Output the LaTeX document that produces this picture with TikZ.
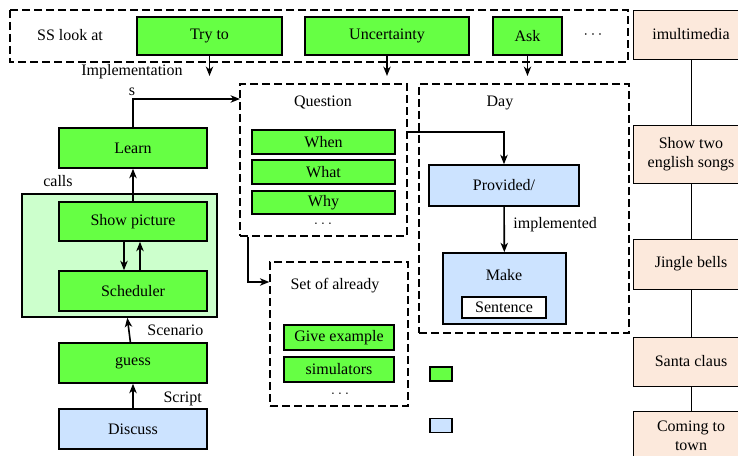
\documentclass[tikz,border=0pt]{standalone}
\usepackage{fontspec}
\usetikzlibrary{arrows.meta}
\setmainfont{Liberation Serif}
\definecolor{boxgreen}{HTML}{66FF44}
\definecolor{palegreen}{HTML}{CCFFCC}
\definecolor{boxblue}{HTML}{CCE3FF}
\definecolor{boxpeach}{HTML}{FCE9DC}
\begin{document}
\begin{tikzpicture}[x=.75pt,y=-.75pt,line cap=butt,line join=miter,>={Stealth[length=7pt,width=5.5pt,inset=2pt]},font=\fontsize{12}{14.5}\selectfont,
	gbox/.style={draw,line width=1.2pt,fill=boxgreen,inner sep=0pt},
	bbox/.style={draw,line width=1.2pt,fill=boxblue,inner sep=0pt},
	pbox/.style={draw,line width=.6pt,fill=boxpeach,inner sep=0pt,minimum width=87pt,align=center},
	dbox/.style={draw,line width=1pt,dash pattern=on 6pt off 3pt,inner sep=0pt},
	conn/.style={->,line width=1.2pt}]
			\useasboundingbox (0,0) rectangle (738,456);
			\clip (0,0) rectangle (738,456);
			\draw[line width=1pt,dash pattern=on 6pt off 3pt] (10,10) rectangle (628,62);
			\node (ss) at (70,35) {SS look at};
			\node[gbox,minimum width=108.75pt,minimum height=28.5pt] (tryto) at (209.5,36) {Try to};
			\node[gbox,minimum width=123pt,minimum height=28.5pt] (uncert) at (387,36) {Uncertainty};
			\node[gbox,minimum width=51.75pt,minimum height=28.5pt] (ask) at (527.5,36) {Ask};
			\node (topdots) at (593,35) {$\cdots$};
			\coordinate (trytoend) at (209.5,76);
			\coordinate (uncertend) at (387,76);
			\coordinate (askend) at (527.5,76);
			\draw[conn] (tryto) -- (trytoend);
			\draw[conn] (uncert) -- (uncertend);
			\draw[conn] (ask) -- (askend);
			\node[align=center] (impl) at (132,80) {Implementation\\s};
			% question frame
			\node[dbox,minimum width=125.25pt,minimum height=114pt] (qframe) at (323.5,160) {};
			\node (question) at (323,103) {Question};
			\node[gbox,minimum width=107.25pt,minimum height=18pt] (when) at (323.5,142) {When};
			\node[gbox,minimum width=107.25pt,minimum height=18pt] (what) at (323.5,172) {What};
			\node[gbox,minimum width=107.25pt,minimum height=17.25pt] (why) at (323.5,202.5) {Why};
			\node (qdots) at (323,224) {$\ldots$};
			% day frame
			\node[dbox,minimum width=157.5pt,minimum height=186.75pt] (dframe) at (524,208.5) {};
			\node (day) at (500,103) {Day};
			\node[bbox,minimum width=112.5pt,minimum height=30.75pt] (provided) at (504,185.5) {Provided/};
			\node[bbox,minimum width=92.25pt,minimum height=53.25pt] (make) at (504.5,288.5) {};
			\node (maketext) at (504,275) {Make};
			\node[draw,line width=1.2pt,fill=white,inner sep=0pt,minimum width=63pt,minimum height=15.75pt] (sentence) at (504,307.5) {Sentence};
			% set frame
			\node[dbox,minimum width=103.5pt,minimum height=108pt] (sframe) at (339,334) {};
			\node (setof) at (335,286) {Set of already};
			\node[gbox,minimum width=82.5pt,minimum height=18.75pt] (giveex) at (339,337.5) {Give example};
			\node[gbox,minimum width=82.5pt,minimum height=18.75pt] (simul) at (339,369.5) {simulators};
			\node (sdots) at (340,394) {$\ldots$};
			\node[gbox,minimum width=16.5pt,minimum height=10.5pt] (leggreen) at (441,374) {};
			\node[bbox,minimum width=16.5pt,minimum height=10.5pt] (legblue) at (441,425.5) {};
			% left column
			\node[draw,line width=1.2pt,fill=palegreen,minimum width=146.25pt,minimum height=92.25pt] (callsframe) at (119.5,255.5) {};
			\node (calls) at (58,181) {calls};
			\node[gbox,minimum width=111pt,minimum height=30pt] (learn) at (133,148) {Learn};
			\node[gbox,minimum width=111pt,minimum height=29.25pt] (showpic) at (133,221.5) {Show picture};
			\node[gbox,minimum width=111pt,minimum height=30pt] (sched) at (133,291) {Scheduler};
			\node[gbox,minimum width=111pt,minimum height=30pt] (guess) at (133,363) {guess};
			\node[bbox,minimum width=111pt,minimum height=30pt] (discuss) at (133,429) {Discuss};
			\coordinate (qin) at (240,99);
			\draw[conn] (learn.north) |- (qin);
			\draw[conn] (qframe.east |- 0,132) -| (provided.north);
			\draw[conn] (provided) -- node[right=3pt,pos=.4]{implemented} (make);
			\draw[conn] (qframe.south -| 248,0) |- (sframe.west |- 0,282);
			\draw[conn] (showpic) -- (learn);
			\draw[conn] (showpic.south -| 124,0) -- (sched.north -| 124,0);
			\draw[conn] (sched.north -| 140,0) -- (showpic.south -| 140,0);
			\draw[conn] (guess) -- node[right=10pt]{Scenario} (callsframe);
			\draw[conn] (discuss) -- node[right=19pt,pos=.4]{Script} (guess);
			% right column
			\node[pbox,minimum height=36.75pt] (imulti) at (691,34.5) {imultimedia};
			\node[pbox,minimum height=43.5pt] (songs) at (691,154) {Show two\\english songs};
			\node[pbox,minimum height=37.5pt] (jingle) at (691,264) {Jingle bells};
			\node[pbox,minimum height=36.75pt] (santa) at (691,361.5) {Santa claus};
			\node[pbox,minimum height=37.5pt] (coming) at (691,436) {Coming to\\town};
			\draw[line width=.6pt] (imulti) -- (songs) (songs) -- (jingle) (jingle) -- (santa) (santa) -- (coming);
	\end{tikzpicture}
\end{document}
